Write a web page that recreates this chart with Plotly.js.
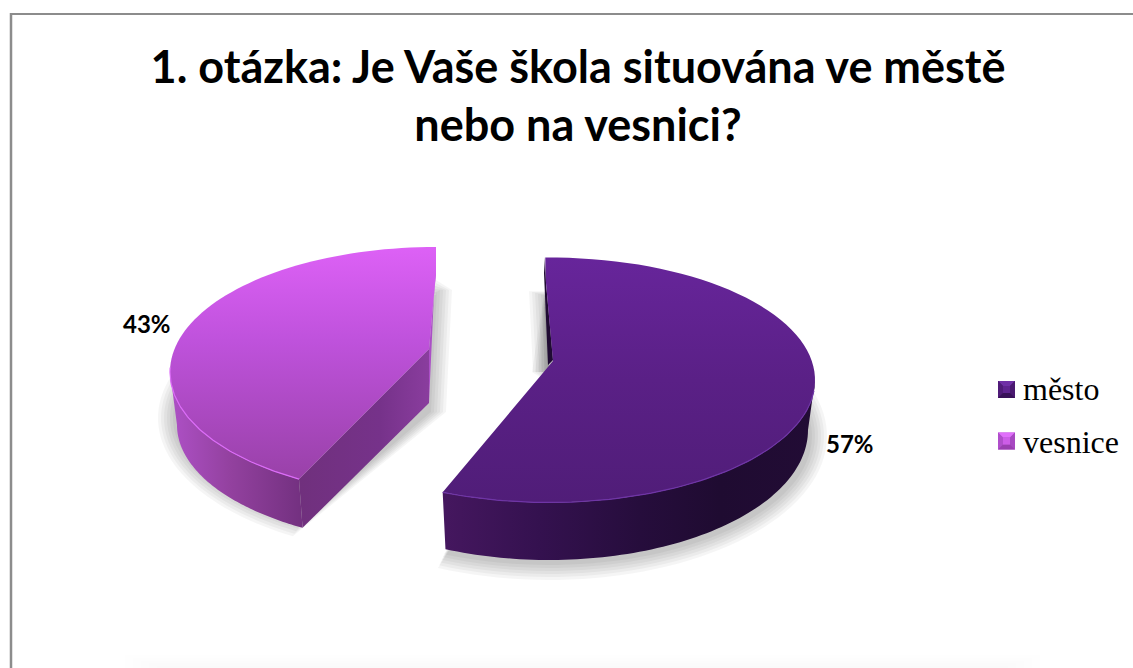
<!DOCTYPE html>
<html><head><meta charset="utf-8">
<script src="https://cdn.plot.ly/plotly-3.0.1.min.js"></script>
<style>html,body{margin:0;padding:0;background:#fff}#c{width:1133px;height:668px}</style>
</head><body><div id="c"></div>
<script>
const titleText = '1. otázka: Je Vaše škola situována ve městě<br>nebo na vesnici?';
const categories = ['město', 'vesnice'];
const shares = [57, 43];

// projection of the tilted, exploded pie on the page
const rad = d => d * Math.PI / 180;
const arc = (e, a0, a1, n = 80) => {
  const x = [], y = [];
  for (let i = 0; i <= n; i++) {
    const a = rad(a0 + (a1 - a0) * i / n);
    x.push(e.cx + e.rx * Math.sin(a));
    y.push(e.cy - e.ry * Math.cos(a));
  }
  return {x, y};
};
const split = shares[0] / (shares[0] + shares[1]) * 360;
const mesEnd = split * 0.992;                    // perspective foreshortening
const vesStart = 360 - (360 - split) * 0.9625;   // of each exploded slice

const mTop = {cx: 549, cy: 380, rx: 266, ry: 122.5}, mBot = {cx: 549, cy: 430, rx: 259, ry: 130};
const vTop = {cx: 436, cy: 372, rx: 266, ry: 125},  vBot = {cx: 436, cy: 425, rx: 259, ry: 120};
const mApex = [553, 361];
const vApex = [429, 349], vApexLow = [429, 403];

const traces = [];
const poly = (x, y, extra) => traces.push(Object.assign({
  type: 'scatter', mode: 'none', x, y, fill: 'toself', hoverinfo: 'skip', showlegend: false
}, extra));
const grad = (type, start, stop, stops) => ({fillgradient: {type, start, stop,
  colorscale: stops.map(([p, c]) => [(p - start) / (stop - start), c])}});

// faint floor shadow at the page foot
for (let k = 0; k < 5; k++) {
  const t = 655 + k * 2.6, s = k * 8;
  poly([125 + s, 1040 - s, 1040 - s, 125 + s], [t, t, 668, 668], {fillcolor: 'rgba(0,0,0,0.005)'});
}

// soft shadows
for (let k = 0; k < 6; k++) {
  const g = 16 - k * 3, col = 'rgba(0,0,0,0.04)';
  let a = arc({cx: 549, cy: 436, rx: 262 + g, ry: 128 + g}, -1, mesEnd);
  poly([...a.x, 552, 548 - g], [...a.y, 385, 372], {fillcolor: col});
  poly([545 - g, 547, 549, 549 - g], [296 - g * 0.3, 296 - g * 0.3, 372, 372], {fillcolor: col});
  a = arc({cx: 436, cy: 418, rx: 262 + g, ry: 122 + g}, vesStart, 360);
  poly([...a.x, 436 + g, 430 + g], [...a.y, 290, 412], {fillcolor: col});
}

// město: walls
let a = arc(mTop, 90, mesEnd), b = arc(mBot, 90, mesEnd);
poly([...a.x, ...b.x.slice().reverse()], [...a.y, ...b.y.slice().reverse()],
  grad('horizontal', 443, 815, [[443, '#45175f'], [540, '#34114f'], [640, '#260d3c'], [720, '#1f0b31'], [815, '#220c35']]));
poly([545, 544, 548, 553, 546], [257, 273, 365, 360, 283], {fillcolor: '#200b33'});
// město: top surface
a = arc(mTop, -0.8, mesEnd);
poly([...a.x, mApex[0], 546], [...a.y, mApex[1], 283],
  grad('vertical', 257, 502, [[257, '#67259b'], [380, '#5a2086'], [502, '#501d78']]));
a = arc(mTop, 95, mesEnd);
traces.push({type: 'scatter', mode: 'lines', x: a.x, y: a.y, hoverinfo: 'skip', showlegend: false,
  line: {color: '#6f35a6', width: 1.2}});

// vesnice: walls
a = arc(vTop, vesStart, 270); b = arc(vBot, vesStart, 270);
poly([...a.x, ...b.x.slice().reverse()], [...a.y, ...b.y.slice().reverse()],
  grad('horizontal', 172, 304, [[172, '#ad50c5'], [230, '#93419f'], [304, '#72307f']]));
const vEnd = arc(vTop, vesStart, vesStart, 1), vEndLow = arc(vBot, vesStart, vesStart, 1);
poly([vEnd.x[0], vApex[0], vApexLow[0], vEndLow.x[0]], [vEnd.y[0], vApex[1], vApexLow[1], vEndLow.y[0]],
  grad('horizontal', 300, 429, [[300, '#70307d'], [380, '#76328a'], [429, '#8a3d9e']]));
poly([436, 436, 429, 429], [250, 273, 349, 403], {fillcolor: '#ab4fc6'});
// vesnice: top surface
a = arc(vTop, vesStart, 360);
poly([...a.x, 436, vApex[0]], [...a.y, 273, vApex[1]],
  grad('vertical', 247, 471, [[247, '#dd61f6'], [340, '#bf52dc'], [471, '#9b42ab']]));
a = arc(vTop, vesStart, 272);
traces.push({type: 'scatter', mode: 'lines', x: a.x, y: a.y, hoverinfo: 'skip', showlegend: false,
  line: {color: '#dc6cf8', width: 1.2}});

// bevelled legend keys, placed under the legend's own labels
const keyStyles = [
  {cy: 389.5, top: '#6f2fa6', left: '#4f1b78', right: '#4a1970', bottom: '#381158', mid: '#5f2390', edge: '#4a1a70'},
  {cy: 441,   top: '#e06ffb', left: '#b04ecb', right: '#a849c2', bottom: '#9a3fb0', mid: '#cd5de8', edge: '#b552cc'}
];
keyStyles.forEach(k => {
  const cx = 1006.5, o = 8.5, n = 3.5, y = k.cy;
  poly([cx - o, cx + o, cx + o, cx - o], [y - o, y - o, y + o, y + o], {fillcolor: k.edge});
  poly([cx - o, cx + o, cx + n, cx - n], [y - o, y - o, y - n, y - n], {fillcolor: k.top});
  poly([cx - o, cx - n, cx - n, cx - o], [y - o, y - n, y + n, y + o], {fillcolor: k.left});
  poly([cx + o, cx + n, cx + n, cx + o], [y - o, y - n, y + n, y + o], {fillcolor: k.right});
  poly([cx - o, cx + o, cx + n, cx - n], [y + o, y + o, y + n, y + n], {fillcolor: k.bottom});
  poly([cx - n, cx + n, cx + n, cx - n], [y - n, y - n, y + n, y + n], {fillcolor: k.mid});
});

// legend entries
categories.forEach(name => traces.push({
  type: 'scatter', mode: 'markers', name, legendgroup: name, x: [null], y: [null], hoverinfo: 'skip',
  marker: {symbol: 'square', size: 1, color: 'rgba(0,0,0,0)'}
}));

const layout = {
  width: 1133, height: 668, margin: {l: 0, r: 0, t: 0, b: 0},
  paper_bgcolor: '#fff', plot_bgcolor: '#fff',
  title: {text: titleText, x: 578 / 1133, xanchor: 'center', y: 0.876, yanchor: 'middle',
          font: {family: 'Lato', size: 45, color: '#000', weight: 700}},
  xaxis: {range: [0, 1133], visible: false, fixedrange: true},
  yaxis: {range: [668, 0], visible: false, fixedrange: true},
  showlegend: true,
  legend: {x: 983 / 1133, y: 1 - 360 / 668, xanchor: 'left', yanchor: 'top', bgcolor: 'rgba(0,0,0,0)',
           font: {family: 'Liberation Serif', size: 32, color: '#000'}, itemwidth: 30,
           traceorder: 'grouped', tracegroupgap: 9},
  shapes: [
    {type: 'line', xref: 'x', yref: 'y', x0: 10, x1: 1133, y0: 14, y1: 14, line: {color: '#8c8c8c', width: 2}},
    {type: 'line', xref: 'x', yref: 'y', x0: 11, x1: 11, y0: 13, y1: 668, line: {color: '#8c8c8c', width: 2.5}}
  ],
  annotations: [
    {text: shares[1] + '%', x: 147, y: 323, xref: 'x', yref: 'y', showarrow: false,
     font: {family: 'Lato', size: 24, weight: 700, color: '#000'}},
    {text: shares[0] + '%', x: 850, y: 443, xref: 'x', yref: 'y', showarrow: false,
     font: {family: 'Lato', size: 24, weight: 700, color: '#000'}}
  ]
};
Plotly.newPlot('c', traces, layout, {displayModeBar: false, staticPlot: true});
</script></body></html>
